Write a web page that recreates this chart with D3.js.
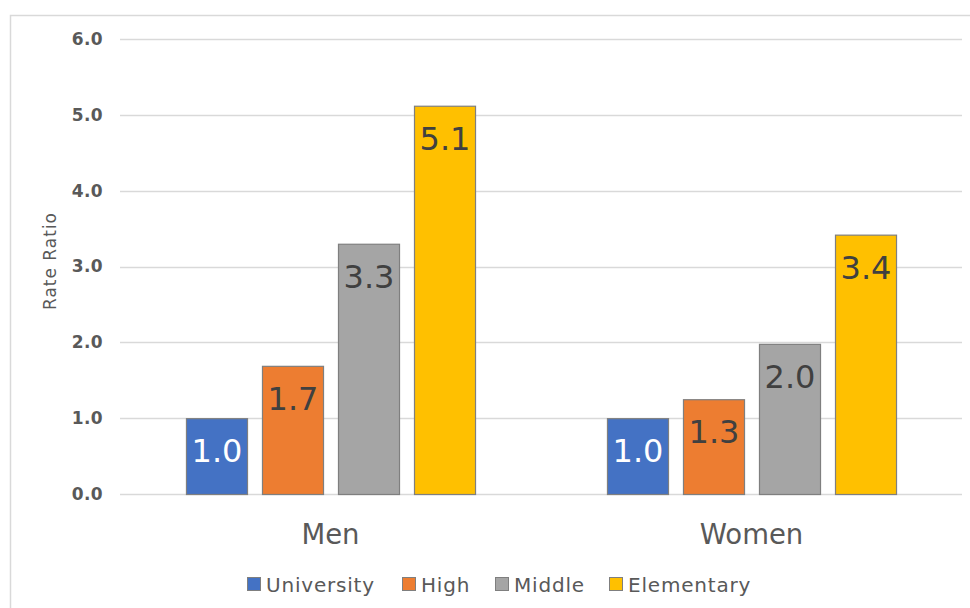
<!DOCTYPE html>
<html><head><meta charset="utf-8">
<script src="https://cdn.jsdelivr.net/npm/d3@7"></script>
<style>body{margin:0;background:#fff;} svg{display:block;}</style>
</head><body>
<svg id="c" width="970" height="608"></svg>
<script>
const categories = ["Men", "Women"];
const seriesNames = ["University", "High", "Middle", "Elementary"];
const colors = ["#4472C4", "#ED7D31", "#A5A5A5", "#FFC000"];
const labelColors = ["#ffffff", "#404040", "#404040", "#404040"];
const university = [1.0, 1.0];
const high = [1.69, 1.25];
const middle = [3.3, 1.98];
const elementary = [5.12, 3.42];
const yTicks = [0, 1, 2, 3, 4, 5, 6];
const yTitle = "Rate Ratio";

(function () {
const seriesValues = [university, high, middle, elementary];
const svg = d3.select("#c");
const font = "DejaVu Sans, Verdana, sans-serif";

svg.append("rect").attr("x", 10.5).attr("y", 15.5).attr("width", 980).attr("height", 620)
  .attr("fill", "#fff").attr("stroke", "#d9d9d9").attr("stroke-width", 1.5);

const pLeft = 120, pRight = 962, pTop = 39, pBottom = 494;
const y = d3.scaleLinear().domain([0, 6]).range([pBottom, pTop]);
const x0 = d3.scaleBand().domain(categories).range([pLeft, pRight]).paddingInner(0).paddingOuter(0);
const x1 = d3.scaleBand().domain(seriesNames).range([0, x0.bandwidth()]).paddingInner(0.197).paddingOuter(0.868);

// gridlines
svg.append("g").selectAll("line").data(yTicks).join("line")
  .attr("x1", pLeft).attr("x2", pRight)
  .attr("y1", d => Math.round(y(d)) + 0.5).attr("y2", d => Math.round(y(d)) + 0.5)
  .attr("stroke", "#d9d9d9").attr("stroke-width", 1.3);

// y axis labels
const yAxis = d3.axisLeft(y).tickValues(yTicks).tickFormat(d3.format(".1f")).tickSize(0).tickPadding(0);
const ya = svg.append("g").attr("transform", "translate(103,0)").call(yAxis);
ya.select(".domain").remove();
ya.selectAll("text").attr("font-family", font).attr("font-size", 17).attr("font-weight", "bold")
  .attr("letter-spacing", "0.4px").attr("fill", "#595959");

svg.append("text").attr("transform", "translate(56,261) rotate(-90)")
  .attr("text-anchor", "middle").attr("font-family", font).attr("font-size", 17)
  .attr("letter-spacing", "1px").attr("fill", "#595959").text(yTitle);

// bars
const data = [];
categories.forEach((c, ci) => seriesNames.forEach((s, si) => data.push({c, s, si, v: seriesValues[si][ci]})));

const g = svg.append("g");
g.selectAll("rect").data(data).join("rect")
  .attr("x", d => x0(d.c) + x1(d.s) + 0.5)
  .attr("y", d => y(d.v) + 0.5)
  .attr("width", x1.bandwidth())
  .attr("height", d => y(0) - y(d.v))
  .attr("fill", d => colors[d.si])
  .attr("stroke", "#7f7f7f").attr("stroke-width", 1.2);

g.selectAll("text").data(data).join("text")
  .attr("x", d => x0(d.c) + x1(d.s) + x1.bandwidth() / 2 + 0.5)
  .attr("y", d => y(d.v) + 44)
  .attr("text-anchor", "middle").attr("font-family", font).attr("font-size", 32)
  .attr("fill", d => labelColors[d.si])
  .text(d => d3.format(".1f")(d.v));

// category axis labels
const xAxis = d3.axisBottom(x0).tickSize(0).tickPadding(0);
const xa = svg.append("g").attr("transform", "translate(0,544)").call(xAxis);
xa.select(".domain").remove();
xa.selectAll("text").attr("font-family", font).attr("font-size", 27.5).attr("fill", "#595959").attr("dy", "0");

// legend
const legendX = [247, 402, 495, 609];
const lg = svg.append("g").selectAll("g").data(seriesNames).join("g")
  .attr("transform", (d, i) => `translate(${legendX[i]},577)`);
lg.append("rect").attr("x", 0.5).attr("y", 0.5).attr("width", 13).attr("height", 13)
  .attr("fill", (d, i) => colors[i]).attr("stroke", "#7f7f7f").attr("stroke-width", 1);
lg.append("text").attr("x", 19).attr("y", 14.5).attr("font-family", font).attr("font-size", 20)
  .attr("letter-spacing", "0.8px").attr("fill", "#595959").text(d => d);
})();
</script>
</body></html>
